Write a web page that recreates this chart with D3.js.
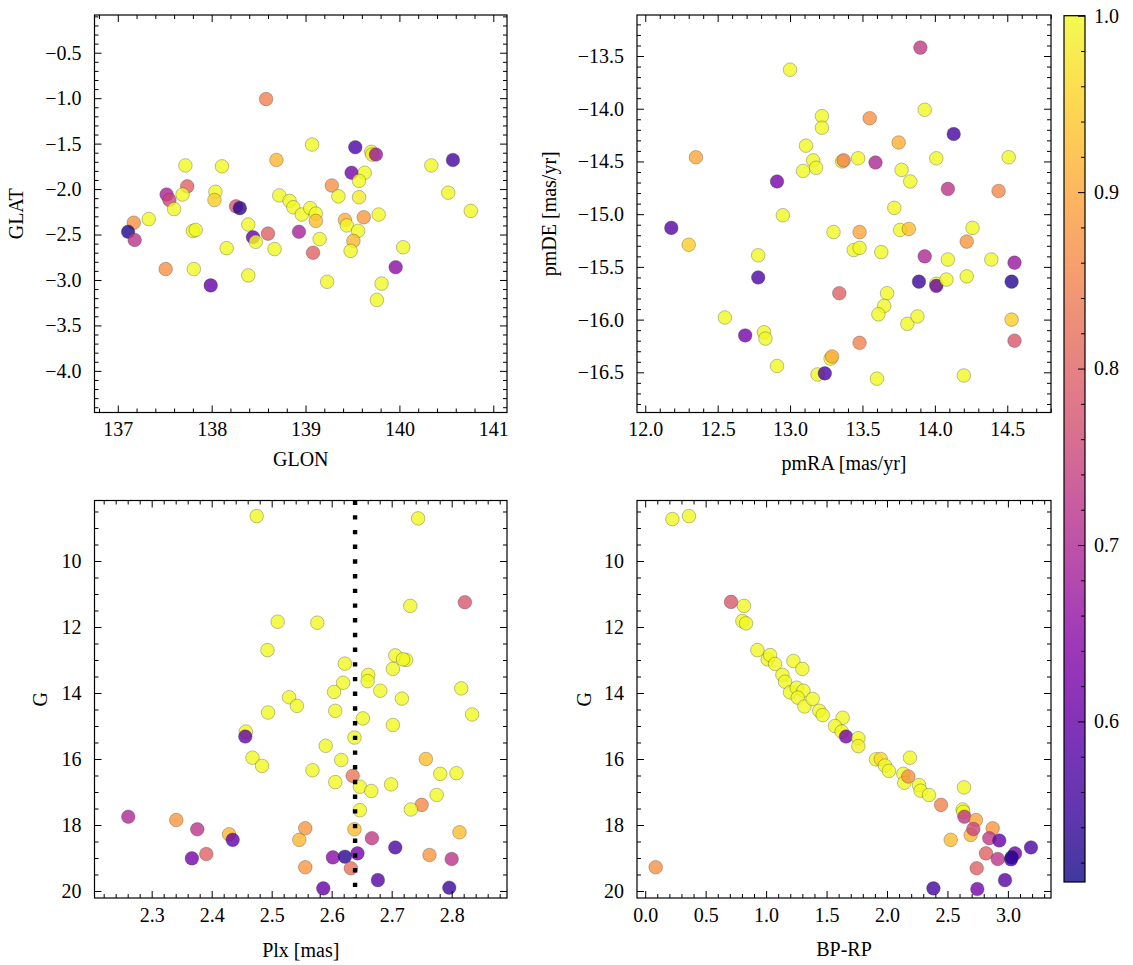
<!DOCTYPE html>
<html>
<head>
<meta charset="utf-8">
<script src="https://cdn.jsdelivr.net/npm/d3@7"></script>
<style>
  html, body { margin: 0; padding: 0; background: #fff; }
  svg { display: block; }
  svg text { font-family: "Liberation Serif", "DejaVu Serif", serif !important; }
</style>
</head>
<body>
<svg id="chart" width="1133" height="965"></svg>
<script>
// ---------------- DATA ----------------
// Panel A: GLON vs GLAT
const glon = [138.58,139.07,139.53,139.70,139.71,139.75,140.57,140.34,137.72,138.11,138.69,139.49,139.63,139.57,137.74,139.28,137.52,137.55,137.69,137.60,138.04,138.03,138.72,138.83,138.87,138.96,139.05,139.11,139.11,139.35,139.57,139.62,139.42,139.44,139.78,140.52,140.76,138.26,138.30,138.39,138.44,138.47,138.60,138.93,139.08,139.15,139.56,139.51,139.48,138.67,138.16,137.17,137.33,137.11,137.18,137.80,137.83,137.51,137.81,137.99,138.39,139.23,139.96,140.04,139.81,139.76];
const glat = [-1.01,-1.51,-1.54,-1.59,-1.62,-1.62,-1.68,-1.74,-1.74,-1.75,-1.68,-1.82,-1.82,-1.91,-1.97,-1.96,-2.06,-2.12,-2.06,-2.22,-2.03,-2.12,-2.07,-2.13,-2.20,-2.28,-2.21,-2.27,-2.35,-2.08,-2.09,-2.31,-2.34,-2.40,-2.28,-2.04,-2.24,-2.19,-2.21,-2.39,-2.53,-2.58,-2.49,-2.47,-2.70,-2.55,-2.46,-2.57,-2.68,-2.66,-2.65,-2.37,-2.33,-2.47,-2.56,-2.46,-2.45,-2.88,-2.88,-3.06,-2.95,-3.02,-2.86,-2.64,-3.04,-3.22];
const probA = [0.85,1.0,0.57,0.99,0.99,0.67,0.56,1.0,1.0,1.0,0.92,0.62,1.0,1.0,0.80,0.87,0.69,0.75,1.0,1.0,1.0,0.95,1.0,1.0,1.0,1.0,1.0,1.0,0.93,1.0,0.98,0.88,0.91,1.0,1.0,1.0,1.0,0.78,0.53,1.0,0.60,1.0,0.80,0.69,0.80,1.0,1.0,0.92,1.0,1.0,1.0,0.87,1.0,0.52,0.72,1.0,1.0,0.87,1.0,0.60,1.0,1.0,0.65,1.0,1.0,1.0];

// Panel B: pmRA vs pmDE
const pmra = [13.90,13.00,13.93,13.22,13.22,13.55,14.13,13.11,13.75,12.35,13.16,13.18,13.09,13.36,13.37,13.47,13.59,14.01,14.51,13.77,13.83,12.91,14.09,14.44,12.95,13.72,12.18,12.30,13.30,13.48,13.76,13.82,14.26,14.22,13.44,13.48,13.63,12.78,13.93,14.09,14.39,14.55,12.78,13.89,14.01,14.01,14.08,14.22,14.53,13.34,13.67,13.65,13.61,13.81,13.88,12.55,14.53,12.69,12.82,12.83,14.55,13.48,13.28,13.29,12.91,13.19,13.24,13.60,14.20];
const pmde = [-13.42,-13.63,-14.01,-14.07,-14.18,-14.09,-14.24,-14.35,-14.32,-14.46,-14.49,-14.56,-14.59,-14.50,-14.49,-14.47,-14.51,-14.47,-14.46,-14.58,-14.69,-14.69,-14.76,-14.78,-15.01,-14.94,-15.13,-15.29,-15.17,-15.17,-15.15,-15.14,-15.13,-15.26,-15.34,-15.32,-15.36,-15.39,-15.40,-15.43,-15.43,-15.46,-15.60,-15.64,-15.66,-15.68,-15.62,-15.59,-15.64,-15.75,-15.75,-15.87,-15.95,-16.04,-15.97,-15.98,-16.00,-16.15,-16.12,-16.18,-16.20,-16.22,-16.37,-16.35,-16.44,-16.52,-16.51,-16.56,-16.53];
const probB = [0.73,1.0,1.0,1.0,1.0,0.87,0.56,1.0,0.91,0.90,1.0,1.0,1.0,1.0,0.85,1.0,0.70,1.0,1.0,1.0,1.0,0.62,0.72,0.86,1.0,1.0,0.58,0.95,1.0,0.90,1.0,0.93,1.0,0.88,1.0,1.0,1.0,1.0,0.70,1.0,1.0,0.67,0.57,0.55,1.0,0.60,1.0,1.0,0.53,0.80,1.0,1.0,1.0,1.0,1.0,1.0,0.95,0.62,1.0,1.0,0.78,0.85,1.0,0.90,1.0,1.0,0.57,1.0,1.0];

// Panel C: Plx vs G
const plx = [2.475,2.744,2.731,2.822,2.510,2.576,2.493,2.706,2.724,2.719,2.702,2.622,2.661,2.660,2.619,2.604,2.681,2.816,2.529,2.542,2.717,2.494,2.606,2.834,2.652,2.702,2.457,2.456,2.638,2.590,2.468,2.484,2.616,2.757,2.568,2.781,2.808,2.635,2.606,2.647,2.666,2.699,2.775,2.750,2.732,2.647,2.261,2.341,2.376,2.429,2.435,2.556,2.638,2.813,2.546,2.667,2.706,2.367,2.391,2.602,2.622,2.643,2.763,2.800,2.556,2.632,2.586,2.677,2.796];
const gPlx = [8.64,8.71,11.36,11.25,11.84,11.87,12.70,12.86,13.00,12.98,13.27,13.11,13.45,13.64,13.69,13.97,13.93,13.86,14.13,14.39,14.17,14.59,14.54,14.65,14.77,14.97,15.17,15.32,15.35,15.60,15.96,16.21,16.03,16.00,16.34,16.45,16.43,16.51,16.70,16.84,16.97,16.77,17.09,17.39,17.53,17.55,17.75,17.85,18.13,18.28,18.45,18.10,18.13,18.22,18.45,18.40,18.68,19.01,18.88,18.98,18.96,18.86,18.91,19.03,19.28,19.31,19.92,19.67,19.90];
const probC = [1.0,1.0,1.0,0.78,1.0,1.0,1.0,1.0,1.0,1.0,1.0,1.0,1.0,1.0,1.0,1.0,1.0,1.0,1.0,1.0,1.0,1.0,1.0,1.0,1.0,1.0,1.0,0.60,1.0,1.0,1.0,1.0,1.0,0.93,1.0,1.0,1.0,0.83,1.0,1.0,1.0,1.0,1.0,0.86,1.0,1.0,0.70,0.88,0.72,0.92,0.60,0.88,0.93,0.93,0.92,0.73,0.57,0.62,0.80,0.65,0.53,0.62,0.88,0.72,0.88,0.82,0.60,0.58,0.55];

// Panel D: BP-RP vs G
const bprp = [0.225,0.362,0.710,0.817,0.804,0.834,0.928,1.013,1.033,1.074,1.226,1.300,1.135,1.157,1.198,1.253,1.309,1.262,1.317,1.385,1.440,1.468,1.633,1.570,1.625,1.661,1.763,1.763,1.909,1.948,1.983,2.016,2.190,2.135,2.143,2.176,2.265,2.278,2.347,2.447,2.637,2.626,2.631,2.640,2.736,2.692,2.714,2.874,2.846,2.929,2.527,2.819,2.916,3.059,3.031,3.026,3.191,2.742,2.976,2.384,2.747,0.087];
const gCmd = [8.73,8.64,11.24,11.36,11.82,11.89,12.70,12.98,12.85,13.12,13.03,13.27,13.45,13.66,13.98,13.84,13.93,14.14,14.41,14.18,14.54,14.67,14.75,15.00,15.17,15.32,15.37,15.61,16.01,16.00,16.20,16.36,15.96,16.45,16.72,16.53,16.79,16.96,17.09,17.39,16.86,17.53,17.60,17.75,17.85,18.30,18.12,18.10,18.40,18.47,18.45,18.86,19.03,18.86,18.98,19.04,18.68,19.31,19.67,19.92,19.94,19.28];
const probD = [1.0,1.0,0.78,1.0,1.0,1.0,1.0,1.0,1.0,1.0,1.0,1.0,1.0,1.0,1.0,1.0,1.0,1.0,1.0,1.0,1.0,1.0,1.0,1.0,1.0,0.62,1.0,0.99,1.0,0.96,1.0,1.0,1.0,1.0,1.0,0.87,1.0,1.0,1.0,0.85,1.0,1.0,1.0,0.72,0.90,0.92,0.75,0.88,0.73,0.60,0.93,0.80,0.72,0.62,0.51,0.55,0.57,0.80,0.58,0.56,0.62,0.87];

// Tick values
const glonTicks = [137,138,139,140,141];
const glatTicks = [-4.0,-3.5,-3.0,-2.5,-2.0,-1.5,-1.0,-0.5];
const pmraTicks = [12.0,12.5,13.0,13.5,14.0,14.5];
const pmdeTicks = [-16.5,-16.0,-15.5,-15.0,-14.5,-14.0,-13.5];
const plxTicks = [2.3,2.4,2.5,2.6,2.7,2.8];
const gTicks = [10,12,14,16,18,20];
const bprpTicks = [0.0,0.5,1.0,1.5,2.0,2.5,3.0];
const cbarTicks = [0.6,0.7,0.8,0.9,1.0];
const plxMedian = 2.639;
const probMin = 0.509, probMax = 1.0;

// ---------------- DRAWING ----------------
const svg = d3.select("#chart");
svg.append("rect").attr("width",1133).attr("height",965).attr("fill","#fff");
const FONT = "Liberation Serif, DejaVu Serif, serif";
const FS = 20;
const color = v => d3.interpolatePlasma((v - probMin) / (probMax - probMin));
const minus = s => s.replace(/-/g, "\u2212");

function range(a, b, step) {
  const out = [];
  const n = Math.round((b - a) / step);
  for (let i = 0; i <= n; i++) out.push(+(a + i * step).toFixed(6));
  return out;
}

let clipId = 0;
function panel(o) {
  const x = d3.scaleLinear().domain(o.xDomain).range([o.x0, o.x1]);
  const y = d3.scaleLinear().domain(o.yDomain).range([o.y1, o.y0]);
  const g = svg.append("g");
  const xd = x.domain(), yd = y.domain();
  const inX = v => v >= Math.min(...xd) - 1e-9 && v <= Math.max(...xd) + 1e-9;
  const inY = v => v >= Math.min(...yd) - 1e-9 && v <= Math.max(...yd) + 1e-9;
  const xMinor = o.xMinor.filter(inX).filter(v => !o.xTicks.some(t => Math.abs(t - v) < 1e-6));
  const yMinor = o.yMinor.filter(inY).filter(v => !o.yTicks.some(t => Math.abs(t - v) < 1e-6));

  const id = "clip" + (clipId++);
  svg.append("clipPath").attr("id", id).append("rect")
    .attr("x", o.x0).attr("y", o.y0).attr("width", o.x1 - o.x0).attr("height", o.y1 - o.y0);
  const pts = o.xs.map((v, i) => ({ x: v, y: o.ys[i], p: o.ps[i] }));
  g.append("g").attr("clip-path", `url(#${id})`)
    .selectAll("circle").data(pts).join("circle")
    .attr("cx", d => x(d.x)).attr("cy", d => y(d.y)).attr("r", 6.8)
    .attr("fill", d => color(d.p)).attr("fill-opacity", 0.8)
    .attr("stroke", "#333").attr("stroke-width", 0.45).attr("stroke-opacity", 0.7);

  if (o.vline !== undefined) {
    g.append("line")
      .attr("x1", x(o.vline)).attr("x2", x(o.vline))
      .attr("y1", o.y0).attr("y2", o.y1)
      .attr("stroke", "#000").attr("stroke-width", 4.4)
      .attr("stroke-dasharray", "4.4,10.3");
  }

  const style = sel => {
    sel.attr("font-family", FONT).attr("font-size", FS);
    sel.select(".domain").remove();
    sel.selectAll(".tick line").attr("stroke", "#000").attr("stroke-width", 1);
    sel.selectAll("text").attr("fill", "#000").style("font-family", FONT).style("font-size", FS + "px");
  };
  g.append("g").attr("transform", `translate(0,${o.y1})`)
    .call(d3.axisBottom(x).tickValues(o.xTicks).tickSizeInner(-7).tickSizeOuter(0).tickPadding(9.5)
      .tickFormat(d => minus(o.xFmt(d)))).call(style);
  g.append("g").attr("transform", `translate(0,${o.y1})`)
    .call(d3.axisBottom(x).tickValues(xMinor).tickSizeInner(-4).tickSizeOuter(0).tickFormat("")).call(style);
  g.append("g").attr("transform", `translate(0,${o.y0})`)
    .call(d3.axisTop(x).tickValues(o.xTicks).tickSizeInner(-7).tickSizeOuter(0).tickFormat("")).call(style);
  g.append("g").attr("transform", `translate(0,${o.y0})`)
    .call(d3.axisTop(x).tickValues(xMinor).tickSizeInner(-4).tickSizeOuter(0).tickFormat("")).call(style);
  g.append("g").attr("transform", `translate(${o.x0},0)`)
    .call(d3.axisLeft(y).tickValues(o.yTicks).tickSizeInner(-7).tickSizeOuter(0).tickPadding(13)
      .tickFormat(d => minus(o.yFmt(d)))).call(style);
  g.append("g").attr("transform", `translate(${o.x0},0)`)
    .call(d3.axisLeft(y).tickValues(yMinor).tickSizeInner(-4).tickSizeOuter(0).tickFormat("")).call(style);
  g.append("g").attr("transform", `translate(${o.x1},0)`)
    .call(d3.axisRight(y).tickValues(o.yTicks).tickSizeInner(-7).tickSizeOuter(0).tickFormat("")).call(style);
  g.append("g").attr("transform", `translate(${o.x1},0)`)
    .call(d3.axisRight(y).tickValues(yMinor).tickSizeInner(-4).tickSizeOuter(0).tickFormat("")).call(style);

  g.append("rect").attr("x", o.x0).attr("y", o.y0)
    .attr("width", o.x1 - o.x0).attr("height", o.y1 - o.y0)
    .attr("fill", "none").attr("stroke", "#000").attr("stroke-width", 1.2);

  g.append("text").attr("x", (o.x0 + o.x1) / 2).attr("y", o.xLabelY)
    .attr("text-anchor", "middle").style("font-family", FONT).style("font-size", FS + "px")
    .text(o.xLabel);
  g.append("text")
    .attr("transform", `translate(${o.yLabelX},${(o.y0 + o.y1) / 2}) rotate(-90)`)
    .attr("text-anchor", "middle").style("font-family", FONT).style("font-size", FS + "px")
    .text(o.yLabel);
}

const f1 = d3.format(".1f"), f0 = d3.format("d");

panel({ x0: 94.5, x1: 507, y0: 15, y1: 412.5,
  xDomain: [136.752, 141.146], yDomain: [-4.458, -0.085],
  xTicks: glonTicks, xMinor: range(136.6, 141.2, 0.2), xFmt: f0,
  yTicks: glatTicks, yMinor: range(-4.5, 0, 0.1), yFmt: f1,
  xLabel: "GLON", yLabel: "GLAT", xLabelY: 466, yLabelX: 23,
  xs: glon, ys: glat, ps: probA });

panel({ x0: 637, x1: 1051, y0: 15, y1: 412.5,
  xDomain: [11.943, 14.802], yDomain: [-16.881, -13.111],
  xTicks: pmraTicks, xMinor: range(11.9, 14.9, 0.1), xFmt: f1,
  yTicks: pmdeTicks, yMinor: range(-16.9, -13.1, 0.1), yFmt: f1,
  xLabel: "pmRA [mas/yr]", yLabel: "pmDE [mas/yr]", xLabelY: 470, yLabelX: 556,
  xs: pmra, ys: pmde, ps: probB });

panel({ x0: 94.5, x1: 507, y0: 500.5, y1: 898,
  xDomain: [2.2047, 2.8922], yDomain: [20.212, 8.167],
  xTicks: plxTicks, xMinor: range(2.2, 2.9, 0.02), xFmt: f1,
  yTicks: gTicks, yMinor: range(8, 20.5, 0.5), yFmt: f0,
  xLabel: "Plx [mas]", yLabel: "G", xLabelY: 957, yLabelX: 47,
  xs: plx, ys: gPlx, ps: probC, vline: plxMedian });

panel({ x0: 637, x1: 1051, y0: 500.5, y1: 898,
  xDomain: [-0.0678, 3.3565], yDomain: [20.212, 8.167],
  xTicks: bprpTicks, xMinor: range(0, 3.3, 0.1), xFmt: f1,
  yTicks: gTicks, yMinor: range(8, 20.5, 0.5), yFmt: f0,
  xLabel: "BP-RP", yLabel: "G", xLabelY: 956, yLabelX: 591,
  xs: bprp, ys: gCmd, ps: probD });

// ---------------- COLORBAR ----------------
const cb = { x0: 1064, x1: 1085, y0: 15.7, y1: 882 };
const cs = d3.scaleLinear().domain([probMin, probMax]).range([cb.y1, cb.y0]);
const grad = svg.append("defs").append("linearGradient").attr("id", "plasmaGrad")
  .attr("x1", 0).attr("y1", 1).attr("x2", 0).attr("y2", 0);
d3.range(0, 1.0001, 0.02).forEach(t => {
  grad.append("stop").attr("offset", t).attr("stop-color", d3.interpolatePlasma(t));
});
svg.append("rect").attr("x", cb.x0).attr("y", cb.y0)
  .attr("width", cb.x1 - cb.x0).attr("height", cb.y1 - cb.y0)
  .attr("fill", "url(#plasmaGrad)").attr("fill-opacity", 0.8);
const cbMinor = range(0.52, 1.0, 0.02).filter(v => !cbarTicks.some(t => Math.abs(t - v) < 1e-6));
const cbg = svg.append("g").attr("transform", `translate(${cb.x1},0)`)
  .call(d3.axisRight(cs).tickValues(cbarTicks).tickSizeInner(-7).tickSizeOuter(0).tickPadding(9)
    .tickFormat(d => f1(d)));
cbg.select(".domain").remove();
cbg.selectAll(".tick line").attr("stroke", "#000");
cbg.selectAll("text").style("font-family", FONT).style("font-size", FS + "px");
const cbg2 = svg.append("g").attr("transform", `translate(${cb.x1},0)`)
  .call(d3.axisRight(cs).tickValues(cbMinor).tickSizeInner(-4).tickSizeOuter(0).tickFormat(""));
cbg2.select(".domain").remove();
cbg2.selectAll(".tick line").attr("stroke", "#000");
svg.append("rect").attr("x", cb.x0).attr("y", cb.y0)
  .attr("width", cb.x1 - cb.x0).attr("height", cb.y1 - cb.y0)
  .attr("fill", "none").attr("stroke", "#000").attr("stroke-width", 1.2);
</script>
</body>
</html>
